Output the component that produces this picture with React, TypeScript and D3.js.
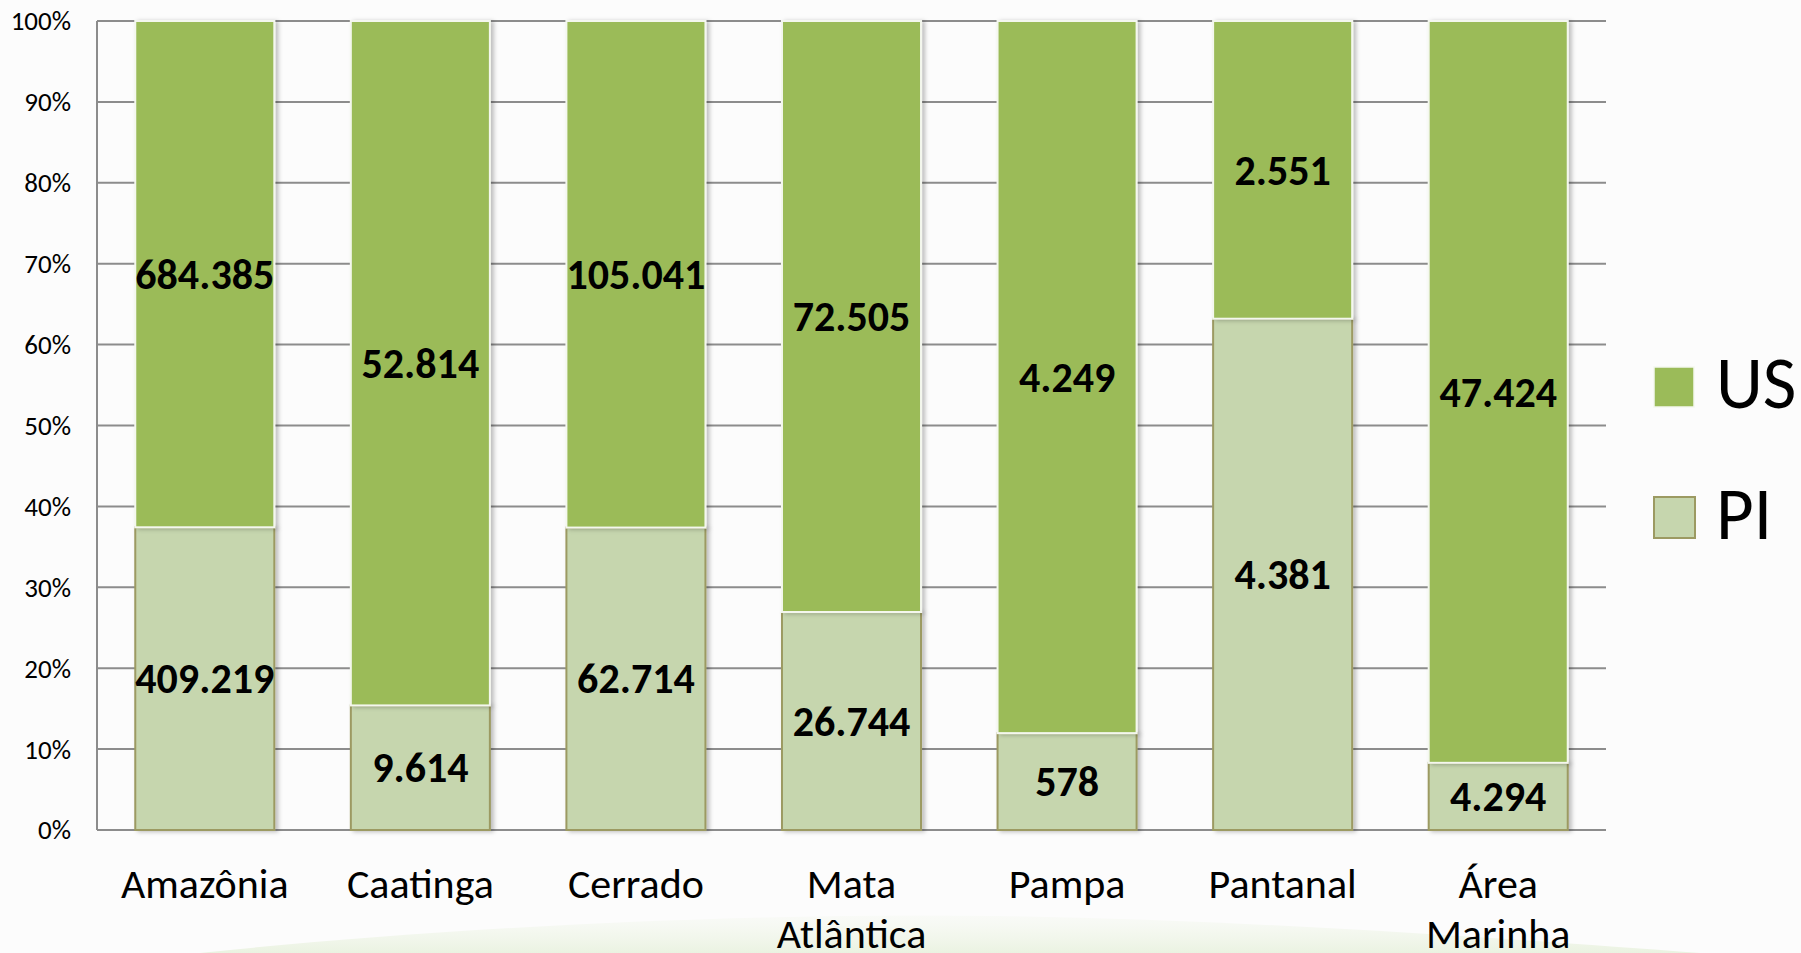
import React from "react";
import * as d3 from "d3";

const categories = ["Amazônia", "Caatinga", "Cerrado", "Mata Atlântica", "Pampa", "Pantanal", "Área Marinha"];
const categoryLines = [["Amazônia"], ["Caatinga"], ["Cerrado"], ["Mata", "Atlântica"], ["Pampa"], ["Pantanal"], ["Área", "Marinha"]];
const usValues = [684385, 52814, 105041, 72505, 4249, 2551, 47424];
const piValues = [409219, 9614, 62714, 26744, 578, 4381, 4294];
const yTicks = [0, 0.1, 0.2, 0.3, 0.4, 0.5, 0.6, 0.7, 0.8, 0.9, 1];
const seriesNames = ["US", "PI"];

const W = 1801;
const H = 953;
const left = 97;
const right = 1606;
const top = 21;
const bottom = 830;

const US_FILL = "#9BBB59";
const PI_FILL = "#C6D6AE";
const PI_STROKE = "#9C9A62";
const FONT = "Carlito, Lato, 'Open Sans', sans-serif";

const fmt = (v: number) => d3.format(",")(v).replace(/,/g, ".");

export default function App() {
  const x = d3.scaleBand<string>().domain(categories).range([left, right]).paddingInner(0.355).paddingOuter(0.1775);
  const y = d3.scaleLinear().domain([0, 1]).range([bottom, top]);
  const pct = d3.format(".0%");

  const rows = categories.map((c, i) => {
    const total = usValues[i] + piValues[i];
    return { c, i, pi: piValues[i] / total, us: usValues[i], piv: piValues[i] };
  });

  return (
    <svg width={W} height={H} style={{ position: "absolute", left: 0, top: 0, background: "#FCFCFC" }} fontFamily={FONT}>
      <defs>
        <filter id="sh" x="-10%" y="-10%" width="130%" height="120%">
          <feDropShadow dx="3" dy="1" stdDeviation="2" floodColor="#000" floodOpacity="0.25" />
        </filter>
        <linearGradient id="sw" x1="0" y1="0" x2="0" y2="1">
          <stop offset="0" stopColor="#E8F1DC" stopOpacity="0.15" />
          <stop offset="1" stopColor="#DCEBCB" stopOpacity="0.55" />
        </linearGradient>
      </defs>
      <rect x={0} y={0} width={W} height={H} fill="#FCFCFC" />
      <path d={`M 200 953 C 420 930, 720 912, 1000 916 C 1250 920, 1500 938, 1700 953 Z`} fill="url(#sw)" />

      {yTicks.map((t) => (
        <g key={t}>
          <line x1={left} x2={right} y1={y(t)} y2={y(t)} stroke="#8C8C8C" strokeWidth={2} />
          <text x={71} y={y(t)} dy="0.35em" textAnchor="end" fontSize={27} fill="#000">
            {pct(t)}
          </text>
        </g>
      ))}
      <line x1={left} x2={left} y1={top} y2={bottom} stroke="#8C8C8C" strokeWidth={2} />

      {rows.map((r) => {
        const bx = x(r.c)!;
        const bw = x.bandwidth();
        const yPi = y(r.pi);
        return (
          <g key={r.c}>
            <rect x={bx} y={yPi} width={bw} height={y(0) - yPi} fill={PI_FILL} stroke={PI_STROKE} strokeWidth={2} filter="url(#sh)" />
            <rect x={bx} y={y(1)} width={bw} height={yPi - y(1)} fill={US_FILL} stroke="#F4F7EE" strokeWidth={2} filter="url(#sh)" />
            <text x={bx + bw / 2} y={(y(1) + yPi) / 2} dy="0.35em" textAnchor="middle" fontSize={42} fontWeight="bold" fill="#000">
              {fmt(r.us)}
            </text>
            <text x={bx + bw / 2} y={(yPi + y(0)) / 2} dy="0.35em" textAnchor="middle" fontSize={42} fontWeight="bold" fill="#000">
              {fmt(r.piv)}
            </text>
            {categoryLines[r.i].map((ln, k) => (
              <text key={k} x={bx + bw / 2} y={898 + k * 50} textAnchor="middle" fontSize={42} fill="#000">
                {ln}
              </text>
            ))}
          </g>
        );
      })}

      <rect x={1654} y={367} width={40} height={40} fill={US_FILL} stroke="#F4F7EE" strokeWidth={1.5} />
      <text x={1716} y={408} fontSize={73} fill="#000">{seriesNames[0]}</text>
      <rect x={1654} y={497} width={41} height={41} fill={PI_FILL} stroke={PI_STROKE} strokeWidth={2} />
      <text x={1716} y={539} fontSize={73} fill="#000">{seriesNames[1]}</text>
    </svg>
  );
}
